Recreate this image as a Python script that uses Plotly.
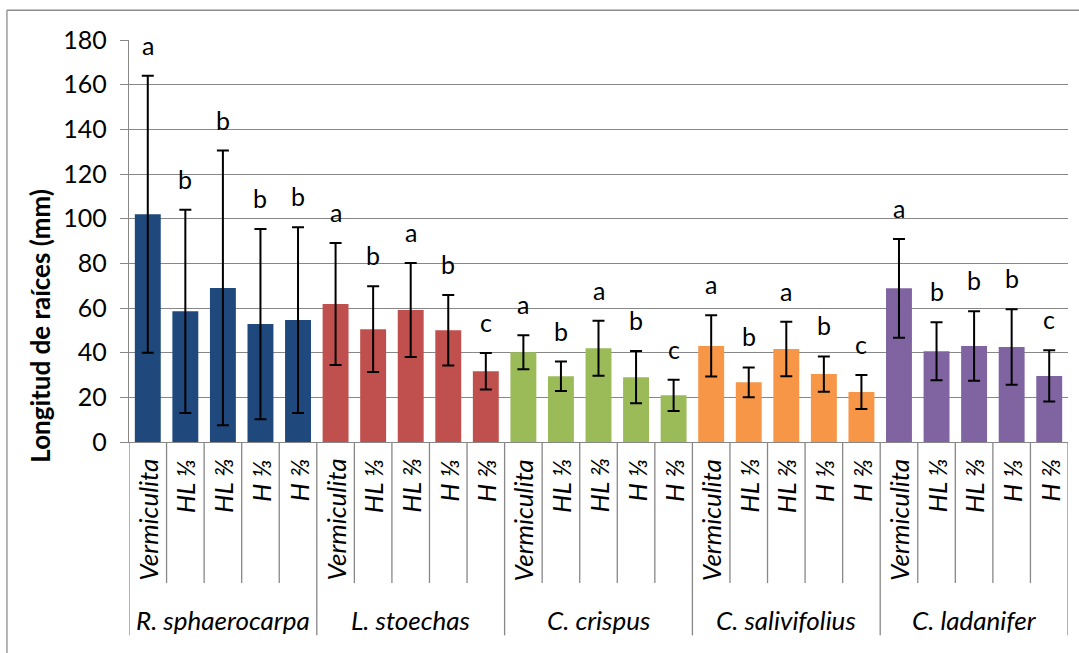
import plotly.graph_objects as go

species = ["R. sphaerocarpa", "L. stoechas", "C. crispus", "C. salivifolius", "C. ladanifer"]
treatments = ["Vermiculita", "HL ⅓", "HL ⅔", "H ⅓", "H ⅔"]
colors = ["#1F497D", "#C0504D", "#9BBB59", "#F79646", "#8064A2"]

mean_rsph = [102.0, 58.5, 69.0, 52.8, 54.6]
sd_rsph = [62.0, 45.5, 61.5, 42.6, 41.6]
mean_lsto = [61.8, 50.5, 59.1, 50.0, 31.7]
sd_lsto = [27.3, 19.2, 21.0, 15.8, 8.2]
mean_ccri = [40.2, 29.4, 42.0, 29.0, 20.9]
sd_ccri = [7.6, 6.6, 12.3, 11.7, 7.0]
mean_csal = [43.0, 26.7, 41.6, 30.4, 22.4]
sd_csal = [13.7, 6.7, 12.2, 7.9, 7.6]
mean_clad = [68.8, 40.6, 43.0, 42.5, 29.6]
sd_clad = [22.1, 13.0, 15.6, 16.9, 11.5]

letters_rsph = ["a", "b", "b", "b", "b"]
letters_lsto = ["a", "b", "a", "b", "c"]
letters_ccri = ["a", "b", "a", "b", "c"]
letters_csal = ["a", "b", "a", "b", "c"]
letters_clad = ["a", "b", "b", "b", "c"]

y_ticks = [0, 20, 40, 60, 80, 100, 120, 140, 160, 180]
y_title = "Longitud de raíces (mm)"

means = [mean_rsph, mean_lsto, mean_ccri, mean_csal, mean_clad]
sds = [sd_rsph, sd_lsto, sd_ccri, sd_csal, sd_clad]
letters = [letters_rsph, letters_lsto, letters_ccri, letters_csal, letters_clad]

FONT = "Lato"
GRID = "#878787"
nT = len(treatments)
nS = len(species)

fig = go.Figure()
annotations = []
shapes = []

for s in range(nS):
    xs = [s * nT + t for t in range(nT)]
    fig.add_trace(go.Bar(
        x=xs, y=means[s], width=0.69,
        marker=dict(color=colors[s], line=dict(width=0)),
        error_y=dict(type="data", array=sds[s], visible=True,
                     color="black", thickness=2, width=6),
        showlegend=False,
    ))
    for t in range(nT):
        x = s * nT + t
        # significance letters
        annotations.append(dict(
            x=x, y=means[s][t] + sds[s][t], xref="x", yref="y",
            text=letters[s][t], showarrow=False, yanchor="bottom",
            yshift=14, font=dict(family=FONT, size=25, color="black")))
        # treatment labels
        annotations.append(dict(
            x=x, y=0, xref="x", yref="paper", text="<i>" + treatments[t] + "</i>",
            showarrow=False, textangle=-90, yanchor="top", xanchor="center",
            yshift=-15, font=dict(family=FONT, size=26, color="black")))
    # species label
    annotations.append(dict(
        x=s * nT + (nT - 1) / 2, y=0, xref="x", yref="paper",
        text="<i>" + species[s] + "</i>", showarrow=False,
        yanchor="middle", yshift=-178,
        font=dict(family=FONT, size=26, color="black")))

# y-axis title
annotations.append(dict(
    x=-0.0945, y=0.29, xref="paper", yref="paper", text="<b>" + y_title + "</b>",
    showarrow=False, textangle=-90, xanchor="center", yanchor="middle",
    font=dict(family=FONT, size=26, color="black")))

# dividers
for i in range(nS * nT + 1):
    is_group = (i % nT == 0)
    shapes.append(dict(
        type="line", xref="x", yref="paper", x0=i - 0.5, x1=i - 0.5,
        y0=0, y1=-0.481 if is_group else -0.351,
        line=dict(color=GRID, width=1.3)))

# outer frame (top and left)
shapes.append(dict(type="line", xref="paper", yref="paper", x0=-0.130, x1=1.05,
                   y0=1.074, y1=1.074, line=dict(color="#8c8c8c", width=1.3)))
shapes.append(dict(type="line", xref="paper", yref="paper", x0=-0.130, x1=-0.130,
                   y0=1.074, y1=-0.6, line=dict(color="#8c8c8c", width=1.3)))

fig.update_layout(
    width=1079, height=653,
    margin=dict(l=129, r=11, t=40, b=211),
    paper_bgcolor="white", plot_bgcolor="white",
    barmode="overlay",
    annotations=annotations, shapes=shapes,
    xaxis=dict(range=[-0.5, nS * nT - 0.5], showticklabels=False, showgrid=False,
               zeroline=False, showline=True, linecolor=GRID, linewidth=1.3, ticks=""),
    yaxis=dict(range=[0, 180], tickvals=y_ticks, showgrid=True, gridcolor=GRID,
               gridwidth=1.3, zeroline=False, showline=True, linecolor=GRID,
               linewidth=1.3, ticks="outside", ticklen=8, tickcolor=GRID, tickwidth=1.3,
               ticklabelstandoff=8,
               tickfont=dict(family=FONT, size=25, color="black")),
)

fig.write_html("out.html")
